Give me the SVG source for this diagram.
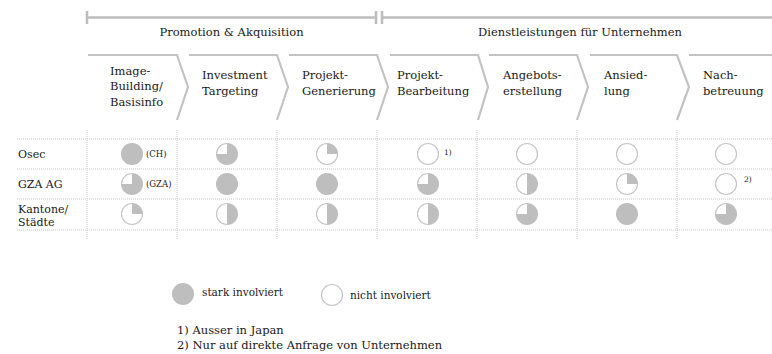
<svg xmlns="http://www.w3.org/2000/svg" width="772" height="354" viewBox="0 0 772 354">
<style>
  text { font-family: "DejaVu Serif", "Liberation Serif", serif; fill: #1a1a1a; }
  .hdr { font-size: 11.5px; text-anchor: middle; }
  .step { font-size: 11.5px; }
  .row { font-size: 11px; }
  .note { font-size: 8.5px; }
  .sup { font-size: 7.5px; }
  .leg { font-size: 10.5px; }
  .foot { font-size: 11.5px; }
  .bar { stroke: #BDBDBD; stroke-width: 2.5; fill: none; }
  .chev { stroke: #C3C3C3; stroke-width: 2.2; fill: none; }
  .grid { stroke: #C8C8C8; stroke-width: 1; stroke-dasharray: 1 1; fill: none; }
  .ring { fill: #FFFFFF; stroke: #C6C6C6; stroke-width: 1.2; }
  .fill { fill: #BEBEBE; stroke: none; }
</style>
<defs>
  <g id="p0"><circle class="ring" r="10.5"/></g>
  <g id="p1"><circle class="ring" r="10.5"/><path class="fill" d="M0,0 L0,-10.5 A10.5,10.5 0 0 1 10.5,0 Z"/></g>
  <g id="p2"><circle class="ring" r="10.5"/><path class="fill" d="M0,-10.5 A10.5,10.5 0 0 1 0,10.5 Z"/></g>
  <g id="p3"><circle class="ring" r="10.5"/><path class="fill" d="M0,0 L0,-10.5 A10.5,10.5 0 1 1 -10.5,0 Z"/></g>
  <g id="p4"><circle class="fill" r="11"/></g>
</defs>

<g id="header-bars">
  <path class="bar" d="M87,11 V24 M87,17.5 H376 M376,11 V24 M382,11 V24 M382,17.5 H772"/>
  <text class="hdr" x="231.5" y="36">Promotion &amp; Akquisition</text>
  <text class="hdr" x="580" y="36">Dienstleistungen für Unternehmen</text>
</g>

<g id="grid">
  <path class="grid" d="M17,139 H772 M17,169 H772 M17,199 H772 M17,230 H772"/>
  <path class="grid" d="M87,130 V239 M177,130 V239 M277,130 V239 M377,130 V239 M477,130 V239 M577,130 V239 M677,130 V239"/>
</g>

<g id="step1"><path class="chev" d="M88,55 H177 L188,87 L177,120"/>
  <text class="step" x="110" y="75">Image-</text><text class="step" x="110" y="90">Building/</text><text class="step" x="110" y="106">Basisinfo</text></g>
<g id="step2"><path class="chev" d="M189,55 H277 L288,87 L277,120"/>
  <text class="step" x="202" y="79">Investment</text><text class="step" x="202" y="95">Targeting</text></g>
<g id="step3"><path class="chev" d="M289,55 H377 L388,87 L377,120"/>
  <text class="step" x="302" y="79">Projekt-</text><text class="step" x="302" y="95">Generierung</text></g>
<g id="step4"><path class="chev" d="M390,55 H478 L488,87 L478,120"/>
  <text class="step" x="397" y="79">Projekt-</text><text class="step" x="397" y="95">Bearbeitung</text></g>
<g id="step5"><path class="chev" d="M489,55 H577 L588,87 L577,120"/>
  <text class="step" x="503" y="79">Angebots-</text><text class="step" x="503" y="95">erstellung</text></g>
<g id="step6"><path class="chev" d="M590,55 H677 L689,87 L677,120"/>
  <text class="step" x="604" y="79">Ansied-</text><text class="step" x="604" y="95">lung</text></g>
<g id="step7"><path class="chev" d="M689,55 H772"/>
  <text class="step" x="703" y="79">Nach-</text><text class="step" x="703" y="95">betreuung</text></g>

<g id="row-osec">
  <text class="row" x="18" y="158">Osec</text>
  <use href="#p4" x="132" y="154"/><text class="note" x="146" y="157">(CH)</text>
  <use href="#p3" x="227" y="154"/>
  <use href="#p1" x="327" y="154"/>
  <use href="#p0" x="428" y="154"/><text class="sup" x="444" y="155">1)</text>
  <use href="#p0" x="527" y="154"/>
  <use href="#p0" x="627" y="154"/>
  <use href="#p0" x="726" y="154"/>
</g>
<g id="row-gza">
  <text class="row" x="18" y="188">GZA AG</text>
  <use href="#p3" x="132" y="184"/><text class="note" x="146" y="187">(GZA)</text>
  <use href="#p4" x="227" y="184"/>
  <use href="#p4" x="327" y="184"/>
  <use href="#p3" x="428" y="184"/>
  <use href="#p2" x="527" y="184"/>
  <use href="#p1" x="627" y="184"/>
  <use href="#p0" x="726" y="184"/><text class="sup" x="744" y="182">2)</text>
</g>
<g id="row-kantone">
  <text class="row" x="18" y="213">Kantone/</text><text class="row" x="18" y="226">Städte</text>
  <use href="#p1" x="132" y="214"/>
  <use href="#p2" x="227" y="214"/>
  <use href="#p2" x="327" y="214"/>
  <use href="#p2" x="428" y="214"/>
  <use href="#p3" x="527" y="214"/>
  <use href="#p4" x="627" y="214"/>
  <use href="#p3" x="726" y="214"/>
</g>

<g id="legend">
  <use href="#p4" x="183" y="294"/><text class="leg" x="202" y="296">stark involviert</text>
  <use href="#p0" x="332" y="295"/><text class="leg" x="350" y="299">nicht involviert</text>
  <text class="foot" x="177" y="334">1) Ausser in Japan</text>
  <text class="foot" x="177" y="349">2) Nur auf direkte Anfrage von Unternehmen</text>
</g>
</svg>
